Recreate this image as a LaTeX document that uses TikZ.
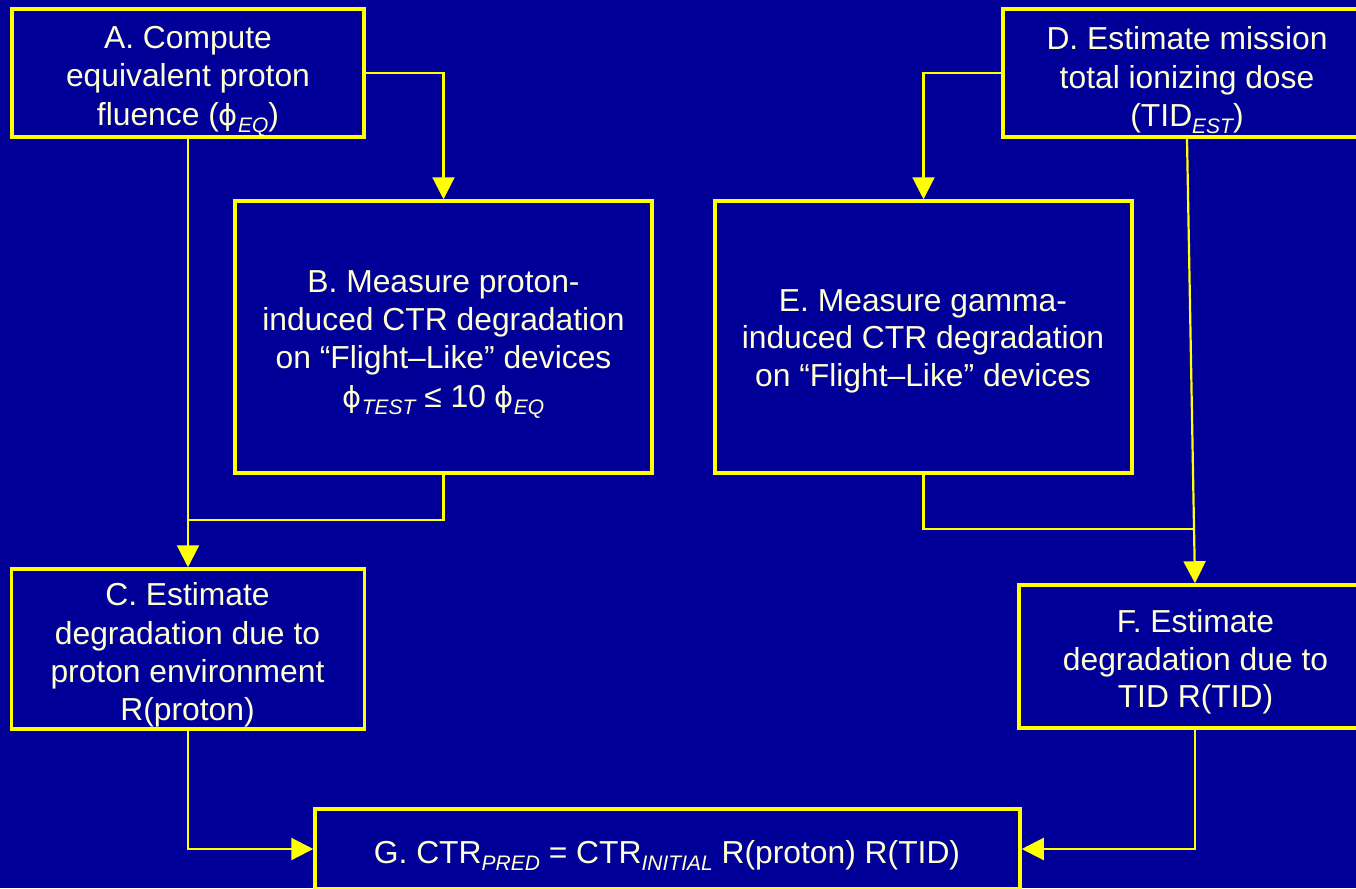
\documentclass[tikz,border=0pt]{standalone}
\usepackage{fontspec}
\setmainfont{Liberation Sans}
\newfontfamily\dejavu{DejaVu Sans}
\usetikzlibrary{arrows.meta}
\definecolor{bgblue}{HTML}{000099}
\definecolor{lineyellow}{HTML}{FFFF00}
\definecolor{txtcream}{HTML}{FFFFD2}
\newcommand{\lsub}[1]{\raisebox{-7.5pt}{\fontsize{21}{21}\selectfont\itshape #1}}
\newcommand{\phisym}{{\dejavu\fontsize{29}{29}\selectfont ϕ}}
\tikzset{
  stepbox/.style={draw=lineyellow, line width=3.5pt, fill=bgblue, inner sep=0pt},
  txt/.style={text=txtcream, align=center, inner sep=0pt,
    font=\fontsize{31.8}{38.3}\selectfont},
  txtnarrow/.style={txt, font=\fontsize{31.8}{37.6}\selectfont},
  conn/.style={draw=lineyellow, line width=2.2pt},
  arr/.style={conn, -{Triangle[width=22pt,length=22pt]}}
}
\begin{document}
\begin{tikzpicture}[x=1pt,y=-1pt]
\useasboundingbox (0,0) rectangle (1356,888);
\clip (0,0) rectangle (1356,888);
\fill[bgblue] (0,0) rectangle (1356,888);

\node[stepbox, minimum width=352pt, minimum height=128pt] (A) at (188,73) {};
\node[stepbox, minimum width=417pt, minimum height=272pt] (B) at (443.5,337) {};
\node[stepbox, minimum width=353pt, minimum height=160pt] (C) at (188,649) {};
\node[stepbox, minimum width=368pt, minimum height=128pt] (D) at (1187,73) {};
\node[stepbox, minimum width=417pt, minimum height=272pt] (E) at (923.5,337) {};
\node[stepbox, minimum width=352pt, minimum height=143pt] (F) at (1195,656.5) {};
\node[stepbox, minimum width=705pt, minimum height=80pt] (G) at (667.5,849) {};

\node[txt] (At) at (188,81.5)
  {A. Compute\\equivalent proton\\fluence (\phisym\lsub{EQ})};
\node[txt] (Bt) at (443.5,344.5)
  {B. Measure proton-\\induced CTR degradation\\on “Flight–Like” devices\\\phisym\lsub{TEST} ≤ 10 \phisym\lsub{EQ}};
\node[txt] (Ct) at (187.5,655)
  {C. Estimate\\degradation due to\\proton environment\\R(proton)};
\node[txt] (Dt) at (1187,80.5)
  {D. Estimate mission\\total ionizing dose\\(TID\lsub{EST})};
\node[txtnarrow] (Et) at (923,341)
  {E. Measure gamma-\\induced CTR degradation\\on “Flight–Like” devices};
\node[txtnarrow] (Ft) at (1195.5,662)
  {F. Estimate\\degradation due to\\TID R(TID)};
\node[txt] (Gt) at (667,855.5)
  {G. CTR\lsub{PRED} = CTR\lsub{INITIAL} R(proton) R(TID)};

\coordinate (jL) at (A.south |- 0,520);
\coordinate (jR) at (F.north |- 0,529);

\draw[arr] (A.east) -| (B.north);
\draw[arr] (A.south) -- (C.north);
\draw[conn] (B.south) |- (jL);
\draw[arr] (C.south) |- (G.west);
\draw[arr] (D.west) -| (E.north);
\draw[arr] (D.south) -- (F.north);
\draw[conn] (E.south) |- (jR);
\draw[arr] (F.south) |- (G.east);
\end{tikzpicture}
\end{document}
